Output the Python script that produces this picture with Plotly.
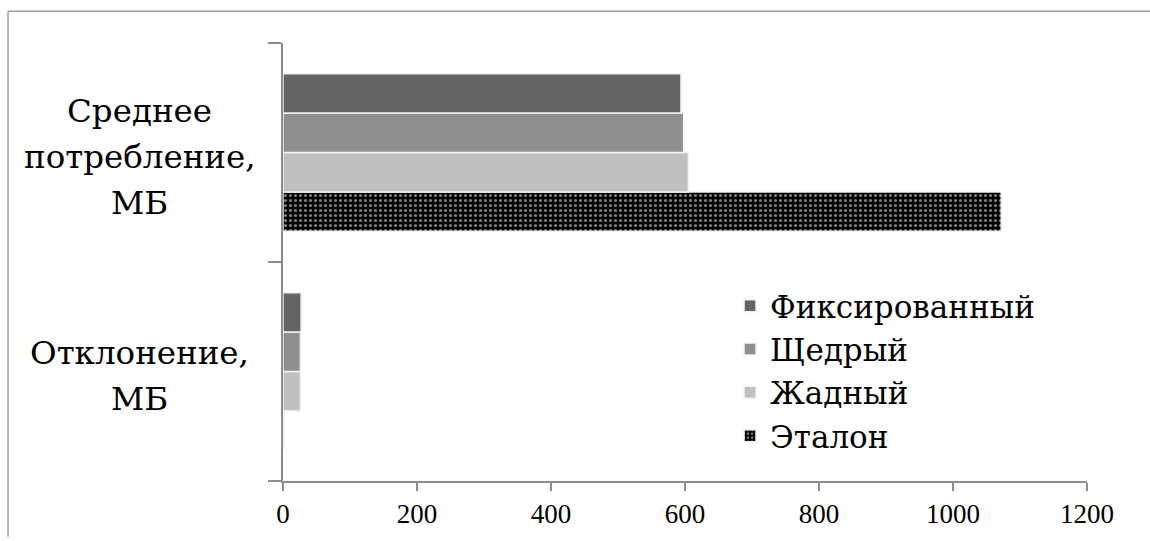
import plotly.graph_objects as go

# Categories (bottom to top on the y axis)
categories = ["Отклонение, МБ", "Среднее потребление, МБ"]
category_lines = [["Отклонение,", "МБ"], ["Среднее", "потребление,", "МБ"]]

# Series values, per category in the same order as `categories`
etalon = [2, 1072]
greedy = [26, 605]
generous = [26, 598]
fixed = [27, 594]

x_ticks = [0, 200, 400, 600, 800, 1000, 1200]

SERIF = "DejaVu Serif"
AXIS_GRAY = "#8c8c8c"
FRAME_GRAY = "#a0a0a0"
LABEL_LINE_PX = 46

fig = go.Figure()

outline = dict(color="#f2f2f2", width=1.5)

# Added bottom-up so the first series in the legend sits on top of each group
fig.add_trace(go.Bar(
    name="Эталон", y=categories, x=etalon, orientation="h",
    marker=dict(
        color="black", line=outline,
        pattern=dict(shape=".", fgcolor="white", bgcolor="black",
                     size=5, solidity=0.3, fillmode="overlay"),
    ),
))
fig.add_trace(go.Bar(name="Жадный", y=categories, x=greedy, orientation="h",
                     marker=dict(color="#c0c0c0", line=outline)))
fig.add_trace(go.Bar(name="Щедрый", y=categories, x=generous, orientation="h",
                     marker=dict(color="#8f8f8f", line=outline)))
fig.add_trace(go.Bar(name="Фиксированный", y=categories, x=fixed, orientation="h",
                     marker=dict(color="#646464", line=outline)))

# Centered multi-line category labels to the left of the y axis
for cat, lines in zip(categories, category_lines):
    n = len(lines)
    for i, line in enumerate(lines):
        shift = -((i - (n - 1) / 2) * LABEL_LINE_PX) - 4
        fig.add_annotation(
            x=-0.178, xref="paper", y=cat, yref="y", yshift=shift,
            text=line, showarrow=False, xanchor="center", yanchor="middle",
            font=dict(family=SERIF, size=32.5, color="black"),
        )

# Outer chart frame: top and left edges (the rest runs off the page)
fig.add_shape(type="line", xref="paper", yref="paper",
              x0=-0.342, x1=1.0784, y0=1.0724, y1=1.0724,
              line=dict(color=FRAME_GRAY, width=1.5), layer="below")
fig.add_shape(type="line", xref="paper", yref="paper",
              x0=-0.342, x1=-0.342, y0=-0.127, y1=1.0724,
              line=dict(color=FRAME_GRAY, width=1.5), layer="below")

fig.update_layout(
    width=1150, height=541,
    margin=dict(l=283, r=63, t=43, b=56),
    paper_bgcolor="white", plot_bgcolor="white",
    barmode="group", bargap=0.28, bargroupgap=0,
    showlegend=True,
    legend=dict(
        x=0.556, y=0.461, xanchor="left", yanchor="top",
        traceorder="reversed",
        font=dict(family=SERIF, size=31, color="black"),
        bgcolor="rgba(0,0,0,0)", tracegroupgap=0,
    ),
    xaxis=dict(
        range=[0, 1200], tickvals=x_ticks, ticktext=[str(v) for v in x_ticks],
        showgrid=False, zeroline=False,
        showline=True, linecolor=AXIS_GRAY, linewidth=1.5,
        ticks="outside", ticklen=8, tickcolor=AXIS_GRAY, tickwidth=1.5,
        tickfont=dict(family="Liberation Serif", size=27, color="black"),
    ),
    yaxis=dict(
        type="category", categoryorder="array", categoryarray=categories,
        showgrid=False, zeroline=False,
        showline=True, linecolor=AXIS_GRAY, linewidth=2,
        ticks="outside", tickson="boundaries", ticklen=13,
        tickcolor=AXIS_GRAY, tickwidth=1.5,
        showticklabels=False,
    ),
)

fig.write_html("out.html")
